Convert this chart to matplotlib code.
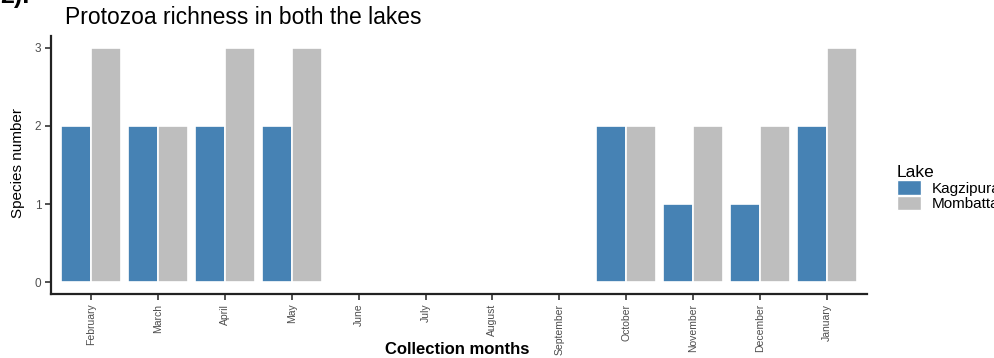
import matplotlib
matplotlib.use("Agg")
import matplotlib.pyplot as plt
from matplotlib.patches import Patch
import numpy as np

months = ["February", "March", "April", "May", "June", "July", "August",
          "September", "October", "November", "December", "January"]
kagzipura = [2, 2, 2, 2, 0, 0, 0, 0, 2, 1, 1, 2]
mombatta = [3, 2, 3, 3, 0, 0, 0, 0, 2, 2, 2, 3]
lakes = ["Kagzipura", "Mombatta"]
colors = ["#4682B4", "#BEBEBE"]

plt.rcParams["font.family"] = ["Liberation Sans", "DejaVu Sans"]

fig = plt.figure(figsize=(9.94, 3.58), dpi=100)
W, H = 994, 358
ax = fig.add_axes([51 / W, 1 - 294 / H, (867 - 51) / W, (294 - 36) / H])

x = np.arange(len(months))
bw = 0.45
for i, (vals, c) in enumerate(zip([kagzipura, mombatta], colors)):
    ax.bar(x + (i - 0.5) * bw, vals, width=bw, color=c,
           edgecolor="white", linewidth=1.2, label=lakes[i])

ax.set_xlim(-0.6, len(months) - 0.4)
ax.set_ylim(-0.15, 3.15)
ax.set_xticks(x)
ax.set_xticklabels(months, rotation=90, fontsize=7.5, color="#4d4d4d")
ax.set_yticks([0, 1, 2, 3])
ax.set_yticklabels(["0", "1", "2", "3"], fontsize=8.5, color="#4d4d4d")
ax.tick_params(axis="both", length=4, width=1.2, color="#333333", pad=3)

for s in ["top", "right"]:
    ax.spines[s].set_visible(False)
for s in ["left", "bottom"]:
    ax.spines[s].set_linewidth(1.6)
    ax.spines[s].set_color("#222222")

fig.text(18 / W, 1 - 163 / H, "Species number", fontsize=11, rotation=90,
         va="center", ha="center")
fig.text(457 / W, 1 - 350 / H, "Collection months", fontsize=12,
         fontweight="bold", va="center", ha="center")
fig.text(65 / W, 1 - 17 / H, "Protozoa richness in both the lakes",
         fontsize=16.5, va="center", ha="left")
fig.text(0 / W, 1 + 4 / H, "2).", fontsize=18, fontweight="bold",
         va="center", ha="left")

handles = [Patch(facecolor=c, edgecolor="white") for c in colors]
fig.legend(handles, lakes, title="Lake", loc="upper left",
           bbox_to_anchor=(897 / W, 1 - 165 / H), frameon=False,
           fontsize=11, title_fontsize=12.5, handlelength=1.6, handleheight=1.1,
           handletextpad=0.7, labelspacing=0.0, alignment="left",
           borderaxespad=0, borderpad=0)

fig.savefig("out.png", dpi=100)
